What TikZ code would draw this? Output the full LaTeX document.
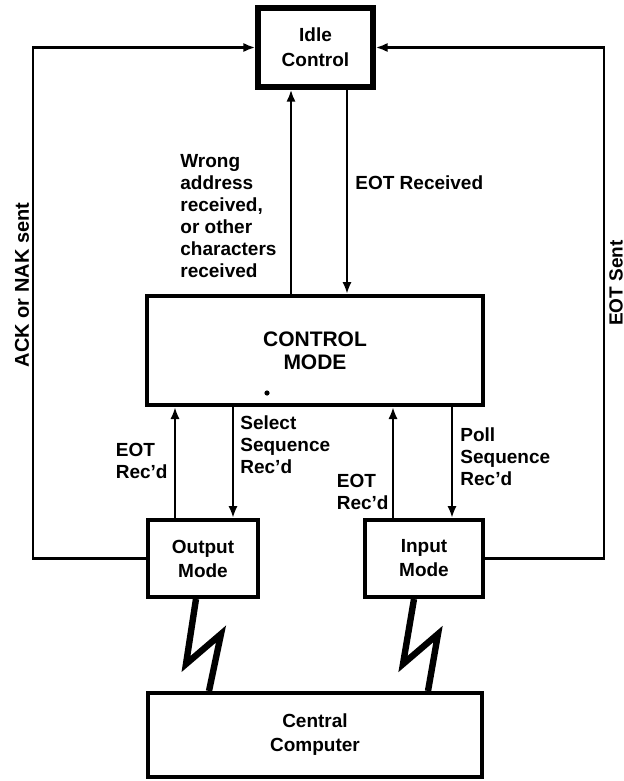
\documentclass[tikz,border=0pt]{standalone}
\usepackage{fontspec}
\setmainfont{Liberation Sans}
\usetikzlibrary{positioning,arrows.meta,calc}

\begin{document}
\begin{tikzpicture}[x=0.5pt,y=-0.5pt,
        box/.style={draw,line width=2pt,align=center,inner sep=0pt},
        conn/.style={line width=1.4pt},
        arr/.style={conn,-{Latex[length=6pt,width=4.6pt]}},
        bolt/.style={line width=3.2pt},
        lbl/.style={align=left,inner sep=0pt},
        font=\fontsize{9.5}{11}\selectfont\bfseries]
        \useasboundingbox (0,0) rectangle (624,781);

        \node[box,line width=2.6pt,minimum width=57.5pt,minimum height=39.5pt,
            font=\fontsize{9.5}{12.5}\selectfont\bfseries] (idle) at (315.5,47.5) {Idle\\Control};
        \node[box,minimum width=168pt,minimum height=54.5pt,
            font=\fontsize{10.5}{11.5}\selectfont\bfseries] (ctrl) at (315,350.5) {CONTROL\\MODE};
        \node[box,minimum width=55pt,minimum height=38.5pt,
            font=\fontsize{9.5}{12}\selectfont\bfseries] (outm) at (203,558.5) {Output\\Mode};
        \node[box,minimum width=59pt,minimum height=38.5pt,
            font=\fontsize{9.5}{12}\selectfont\bfseries] (inm) at (424,558.5) {Input\\Mode};
        \node[box,minimum width=167pt,minimum height=42pt,
            font=\fontsize{9.5}{12}\selectfont\bfseries] (cpu) at (315,735) {Central\\Computer};

        % idle <-> control
        \draw[arr] ([xshift=-12pt]ctrl.north) -- ([xshift=-12pt]ctrl.north |- idle.south);
        \draw[arr] ([xshift=15.75pt]idle.south) -- ([xshift=15.75pt]idle.south |- ctrl.north);

        % control <-> output / input
        \draw[arr] ([xshift=-14pt]outm.north) -- ([xshift=-14pt]outm.north |- ctrl.south);
        \draw[arr] ([xshift=15pt]outm.north |- ctrl.south) -- ([xshift=15pt]outm.north);
        \draw[arr] ([xshift=-15.5pt]inm.north) -- ([xshift=-15.5pt]inm.north |- ctrl.south);
        \draw[arr] ([xshift=14pt]inm.north |- ctrl.south) -- ([xshift=14pt]inm.north);

        % back to idle
        \draw[arr,line width=1.3pt] (outm.west) -- ++(-113,0) |- (idle.west);
        \draw[arr,line width=1.3pt] (inm.east) -- ++(119,0) |- (idle.east);

        % lines to the computer
        \draw[bolt] ([xshift=-3.5pt]outm.south) -- ++(-10,65) -- ++(35,-30) -- ([xshift=-53pt]cpu.north);
        \draw[bolt] ([xshift=-5pt]inm.south) -- ++(-11,65) -- ++(35,-30) -- ([xshift=56.5pt]cpu.north);

        \node[lbl,anchor=west] (wrong) at (180,216) {Wrong\\address\\received,\\or other\\characters\\received};
        \node[lbl,anchor=west] (eotrx) at (355,183) {EOT Received};
        \node[lbl,anchor=east] (eotl) at (168,461) {EOT\\Rec'd};
        \node[lbl,anchor=west] (sel) at (240,445) {Select\\Sequence\\Rec'd};
        \node[lbl,anchor=east] (eotr) at (389,492) {EOT\\Rec'd};
        \node[lbl,anchor=west] (poll) at (460,457) {Poll\\Sequence\\Rec'd};
        \node[lbl,rotate=90,font=\fontsize{10}{12}\selectfont\bfseries] (ack) at (22,285) {ACK or NAK sent};
        \node[lbl,rotate=90] (eots) at (616,283) {EOT Sent};

        \fill (267,393) circle[radius=1.3pt];
\end{tikzpicture}
\end{document}
